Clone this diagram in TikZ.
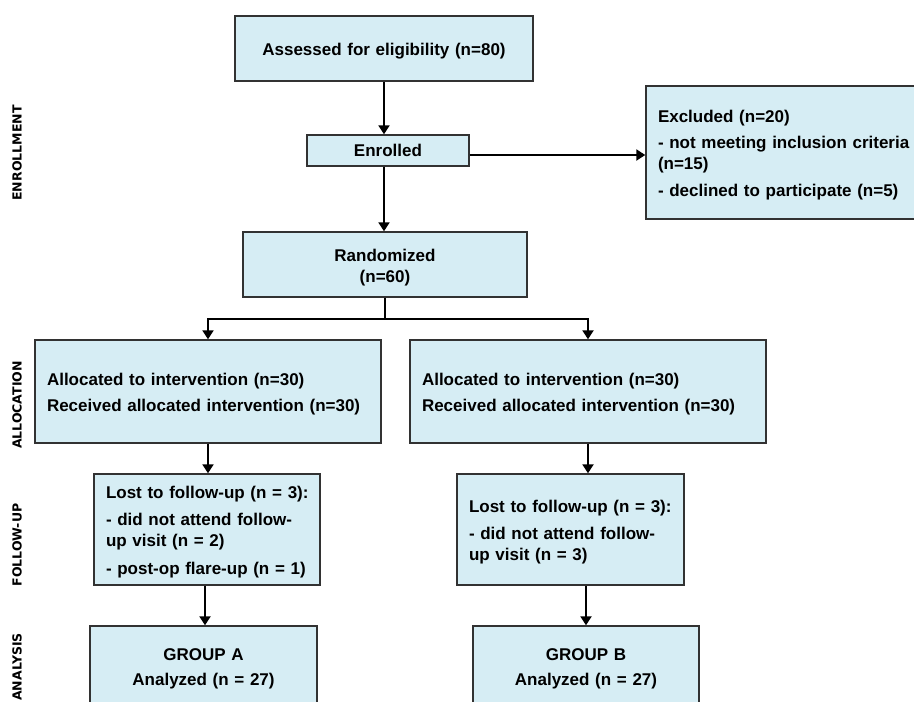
\documentclass[tikz,border=0pt]{standalone}
\usepackage{fontspec}
\setmainfont{Liberation Sans}
\newfontfamily\sidefont{DejaVu Sans}
\usetikzlibrary{arrows.meta,calc}
\definecolor{boxfill}{RGB}{214,237,244}
\definecolor{boxline}{RGB}{50,50,50}
\newcommand{\oneline}[1]{\mbox{#1}}
\newcommand{\tp}{\rule{0pt}{18pt}}
\begin{document}
\begin{tikzpicture}[x=1pt,y=-1pt,
  box/.style={draw=boxline,line width=1.4pt,fill=boxfill,inner xsep=12pt,inner ysep=0pt,
    font=\bfseries\fontsize{17}{21}\selectfont},
  cbox/.style={box,align=center},
  lbox/.style={box,align=left},
  arr/.style={line width=2pt,-{Triangle[width=11pt,length=9pt]}},
  plain/.style={line width=2pt},
  side/.style={rotate=90,font=\sidefont\bfseries\fontsize{12.5}{14}\selectfont}]
\useasboundingbox (0,0) rectangle (914,702);
\clip (0,0) rectangle (914,702);
\fill[white] (0,0) rectangle (914,702);
% side labels
\node[side] (s1) at (17,153) {ENROLLMENT};
\node[side] (s2) at (17,405) {ALLOCATION};
\node[side] (s3) at (17,545) {FOLLOW-UP};
\node[side] (s4) at (17,667) {ANALYSIS};
% boxes
\node[cbox,text width=274pt,minimum height=65pt] (assess) at (384,48.5) {\tp Assessed for eligibility (n=80)};
\node[cbox,text width=138pt,minimum height=31pt] (enrol) at (388,150.5) {Enrolled};
\node[lbox,text width=246pt,minimum height=133pt] (excl) at (781,152.5) {\oneline{\tp Excluded (n=20)}\\[5pt]\oneline{- not meeting inclusion criteria}\\\oneline{(n=15)}\\[6pt]\oneline{- declined to participate (n=5)}};
\node[cbox,text width=260pt,minimum height=65pt] (rand) at (385,264.5) {\tp Randomized\\(n=60)};
\node[lbox,text width=322pt,minimum height=103pt] (al1) at (208,391.5) {\oneline{\tp Allocated to intervention (n=30)}\\[5pt]\oneline{Received allocated intervention (n=30)}};
\node[lbox,text width=332pt,minimum height=103pt] (al2) at (588,391.5) {\oneline{\tp Allocated to intervention (n=30)}\\[5pt]\oneline{Received allocated intervention (n=30)}};
\node[lbox,text width=202pt,minimum height=111pt] (fu1) at (207,529.5) {\oneline{\tp Lost to follow-up (n = 3):}\\[6pt]\oneline{- did not attend follow-}\\\oneline{up visit (n = 2)}\\[7pt]\oneline{- post-op flare-up (n = 1)}};
\node[lbox,text width=203pt,minimum height=111pt] (fu2) at (570.5,529.5) {\oneline{\tp Lost to follow-up (n = 3):}\\[6pt]\oneline{- did not attend follow-}\\\oneline{up visit (n = 3)}};
\node[cbox,text width=203pt,minimum height=86pt] (an1) at (203.5,669) {GROUP A\\[4pt]Analyzed (n = 27)};
\node[cbox,text width=202pt,minimum height=86pt] (an2) at (586,669) {GROUP B\\[4pt]Analyzed (n = 27)};
% connectors
\draw[arr] (assess.south) -- (assess.south |- enrol.north);
\draw[arr] (enrol.south -| assess.south) -- (assess.south |- rand.north);
\draw[arr] (enrol.east |- 0,155) -- (excl.west |- 0,155);
\coordinate (sp) at (rand.south |- 0,319);
\draw[plain] (rand.south) -- (sp);
\draw[arr] (sp) -| (al1.north);
\draw[arr] (sp) -| (al2.north);
\draw[arr] (al1.south) -- (al1.south |- fu1.north);
\draw[arr] (al2.south) -- (al2.south |- fu2.north);
\draw[arr] (fu1.south -| 205,0) -- (an1.north -| 205,0);
\draw[arr] (an2.north |- fu2.south) -- (an2.north);
\end{tikzpicture}
\end{document}
